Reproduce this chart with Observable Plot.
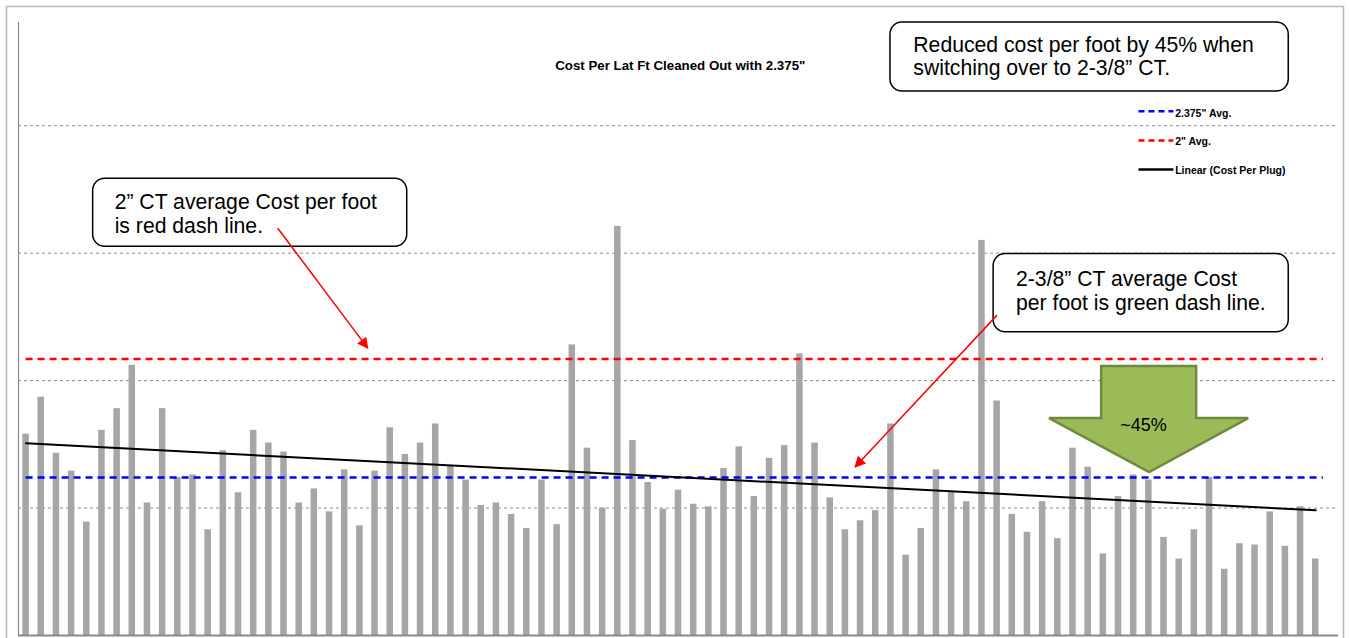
<!DOCTYPE html>
<html><head><meta charset="utf-8">
<script src="https://cdn.jsdelivr.net/npm/d3@7"></script>
<script src="https://cdn.jsdelivr.net/npm/@observablehq/plot@0.6"></script>
<style>
body{margin:0;background:#fff}
svg{display:block}
</style>
</head><body><div id="chart"></div>
<script>
// Cost per lateral foot per plug (relative units)
const costPerFoot = [
  1.58,1.87,1.43,1.29,0.89,1.61,1.78,2.12,1.04,1.78,
  1.24,1.26,0.83,1.45,1.12,1.61,1.51,1.44,1.04,1.15,
  0.97,1.30,0.86,1.29,1.63,1.42,1.51,1.66,1.33,1.22,
  1.02,1.04,0.95,0.84,1.22,0.87,2.28,1.47,1.00,3.21,
  1.53,1.20,0.99,1.14,1.03,1.01,1.31,1.48,1.09,1.39,
  1.49,2.21,1.51,1.08,0.83,0.90,0.98,1.66,0.63,0.84,
  1.30,1.12,1.05,3.10,1.84,0.95,0.81,1.05,0.76,1.47,
  1.32,0.64,1.09,1.26,1.22,0.77,0.60,0.83,1.24,0.52,
  0.72,0.71,0.97,0.70,1.01,0.60
];
const avg2375 = [1.24];   // 2.375" Avg.
const avg2 = [2.17];      // 2" Avg.
const gridValues = [1, 2, 3, 4];
const titleText = "Cost Per Lat Ft Cleaned Out with 2.375\"";
const legendLabels = ["2.375\" Avg.", "2\" Avg.", "Linear (Cost Per Plug)"];

const rows = costPerFoot.map((v, k) => ({i: k + 1, v}));
const lastX = rows.length + 0.5;

const chart = Plot.plot({
  width: 1350, height: 638,
  marginLeft: 18, marginRight: 12, marginTop: 22, marginBottom: 3,
  x: {type: "linear", domain: [0.5, 87.5], axis: null},
  y: {domain: [0, 4.81], axis: null},
  style: {background: "white", overflow: "visible"},
  marks: [
    Plot.ruleY(gridValues, {stroke: "#8c8c8c", strokeDasharray: "3,3", strokeWidth: 1}),
    Plot.rectY(rows, {x1: d => d.i - 0.215, x2: d => d.i + 0.215, y: "v", fill: "#a6a6a6"}),
    Plot.ruleY([0], {stroke: "#8a8a8a", strokeWidth: 2}),
    Plot.ruleX([0.5], {stroke: "#8a8a8a", strokeWidth: 1.2}),
    Plot.ruleY(avg2, {y: d => d, x1: 1, x2: lastX, stroke: "#ff0000", strokeWidth: 2.5, strokeDasharray: "7,5"}),
    Plot.ruleY(avg2375, {y: d => d, x1: 1, x2: lastX, stroke: "#0000ff", strokeWidth: 2.5, strokeDasharray: "7,5"}),
    Plot.linearRegressionY(rows, {x: "i", y: "v", stroke: "black", strokeWidth: 2, ci: 0})
  ]
});
document.getElementById("chart").append(chart);

// ---- annotations (positioned in data units through the chart's scales)
const sx = chart.scale("x").apply, sy = chart.scale("y").apply;
const svg = d3.select(chart);
const font = "'Liberation Sans', Arial, sans-serif";
const narrow = "'Liberation Sans Narrow', 'Arial Narrow', 'Liberation Sans', Arial, sans-serif";

// outer frame
svg.append("rect").attr("x", 6.5).attr("y", 6.5).attr("width", 1337).attr("height", 640)
  .attr("fill", "none").attr("stroke", "#b8b8b8").attr("stroke-width", 1.5);

// title
svg.append("text").attr("x", sx(44.15)).attr("y", sy(4.431)).attr("text-anchor", "middle")
  .attr("font-family", narrow).attr("font-weight", "bold")
  .attr("font-size", 13.3).text(titleText);

// legend
const legendItems = [
  {y: 4.110, ty: 4.065, color: "#0000ff", dash: "6,4", label: legendLabels[0]},
  {y: 3.880, ty: 3.841, color: "#ff0000", dash: "6,4", label: legendLabels[1]},
  {y: 3.653, ty: 3.616, color: "#000000", dash: null, label: legendLabels[2]}
];
for (const it of legendItems) {
  svg.append("line").attr("x1", sx(74.35)).attr("x2", sx(76.65)).attr("y1", sy(it.y)).attr("y2", sy(it.y))
    .attr("stroke", it.color).attr("stroke-width", 2.5).attr("stroke-dasharray", it.dash);
  svg.append("text").attr("x", sx(76.77)).attr("y", sy(it.ty)).attr("text-anchor", "start")
    .attr("font-family", narrow).attr("font-weight", "bold").attr("font-size", 10.5)
    .text(it.label);
}

// arrow marker
svg.append("defs").append("marker").attr("id", "redHead").attr("viewBox", "0 0 10 10")
  .attr("refX", 9).attr("refY", 5).attr("markerWidth", 9).attr("markerHeight", 7.5)
  .attr("orient", "auto").append("path").attr("d", "M0,0L10,5L0,10Z").attr("fill", "#ff0000");

// callout boxes
const boxes = [
  {x1: 57.97, x2: 84.22, y1: 4.269, y2: 4.81, tx: 59.51, lines: [[4.575, "Reduced cost per foot by 45% when"], [4.392, "switching over to 2-3/8\u201d CT."]]},
  {x1: 5.42, x2: 26.12, y1: 3.051, y2: 3.584, tx: 6.87, lines: [[3.341, "2\u201d CT average Cost per foot"], [3.153, "is red dash line."]]},
  {x1: 64.77, x2: 84.22, y1: 2.379, y2: 2.994, tx: 66.28, lines: [[2.737, "2-3/8\u201d CT average Cost"], [2.549, "per foot is green dash line."]]}
];
for (const b of boxes) {
  svg.append("rect").attr("x", sx(b.x1)).attr("y", sy(b.y2)).attr("width", sx(b.x2) - sx(b.x1))
    .attr("height", sy(b.y1) - sy(b.y2)).attr("rx", 12).attr("ry", 12)
    .attr("fill", "white").attr("stroke", "black").attr("stroke-width", 1.5);
  for (const [ly, t] of b.lines) {
    svg.append("text").attr("x", sx(b.tx)).attr("y", sy(ly)).attr("text-anchor", "start")
      .attr("font-family", font).attr("font-size", 21.2).text(t);
  }
}

// red pointer arrows
const arrows = [[17.62, 3.192, 23.55, 2.251], [65.03, 2.51, 55.67, 1.318]];
for (const [ax1, ay1, ax2, ay2] of arrows) {
  svg.append("line").attr("x1", sx(ax1)).attr("y1", sy(ay1)).attr("x2", sx(ax2)).attr("y2", sy(ay2))
    .attr("stroke", "#ff0000").attr("stroke-width", 1.5).attr("marker-end", "url(#redHead)");
}

// green block arrow
const greenArrow = [[71.89, 2.110], [78.15, 2.110], [78.15, 1.702], [81.58, 1.702], [75.05, 1.278], [68.46, 1.702], [71.89, 1.702]];
svg.append("polygon").attr("points", greenArrow.map(([px, py]) => `${sx(px)},${sy(py)}`).join(" "))
  .attr("fill", "#9bbb59").attr("stroke", "#71893f").attr("stroke-width", 2.5).attr("stroke-linejoin", "miter");
svg.append("text").attr("x", sx(74.68)).attr("y", sy(1.602)).attr("text-anchor", "middle")
  .attr("font-family", narrow).attr("font-size", 18).text("~45%");
</script>
</body></html>
